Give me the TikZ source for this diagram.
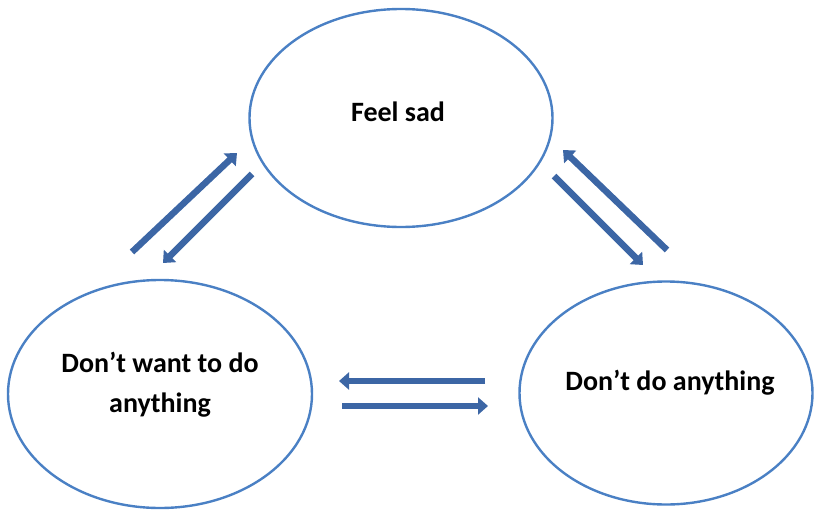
\documentclass[tikz,border=0pt]{standalone}
\usepackage{fontspec}
\setmainfont{Carlito}
\usetikzlibrary{shapes.geometric,arrows.meta}
\definecolor{ringblue}{RGB}{74,128,196}
\definecolor{arrowblue}{RGB}{60,102,165}
\tikzset{
  state/.style={ellipse, draw=ringblue, line width=2.4pt, inner sep=0pt},
  lbl/.style={font=\fontsize{28}{40}\selectfont\bfseries, align=center, inner sep=0pt},
  blockarrow/.style={draw=arrowblue, line width=6.5pt,
    -{Triangle[length=10pt,width=17pt]}, shorten >=0pt},
}
\begin{document}
\begin{tikzpicture}[x=1pt,y=-1pt]
\useasboundingbox (0,0) rectangle (818,511);
% ellipses
\node[state, minimum width=303pt, minimum height=218pt] (sad) at (401,118) {};
\node[state, minimum width=304pt, minimum height=228pt] (want) at (160,394) {};
\node[state, minimum width=293pt, minimum height=223pt] (do) at (666,393) {};
% labels
\node[lbl] (sadtxt) at (398,112) {Feel sad};
\node[lbl] (wanttxt) at (160,385) {Don’t want to do\\anything};
\node[lbl] (dotxt) at (670,383) {Don’t do anything};
% arrow ends
\coordinate (a1s) at (132,252); \coordinate (a1e) at (237,153);
\coordinate (a2s) at (252,174); \coordinate (a2e) at (163,263);
\coordinate (a3s) at (667,250); \coordinate (a3e) at (563,150);
\coordinate (a4s) at (554,176); \coordinate (a4e) at (643,265);
\coordinate (a5s) at (485,381); \coordinate (a5e) at (339,381);
\coordinate (a6s) at (342,406); \coordinate (a6e) at (488,406);
% arrows
\draw[blockarrow] (a1s) -- (a1e);
\draw[blockarrow] (a2s) -- (a2e);
\draw[blockarrow] (a3s) -- (a3e);
\draw[blockarrow] (a4s) -- (a4e);
\draw[blockarrow] (a5s) -- (a5e);
\draw[blockarrow] (a6s) -- (a6e);
\end{tikzpicture}
\end{document}
